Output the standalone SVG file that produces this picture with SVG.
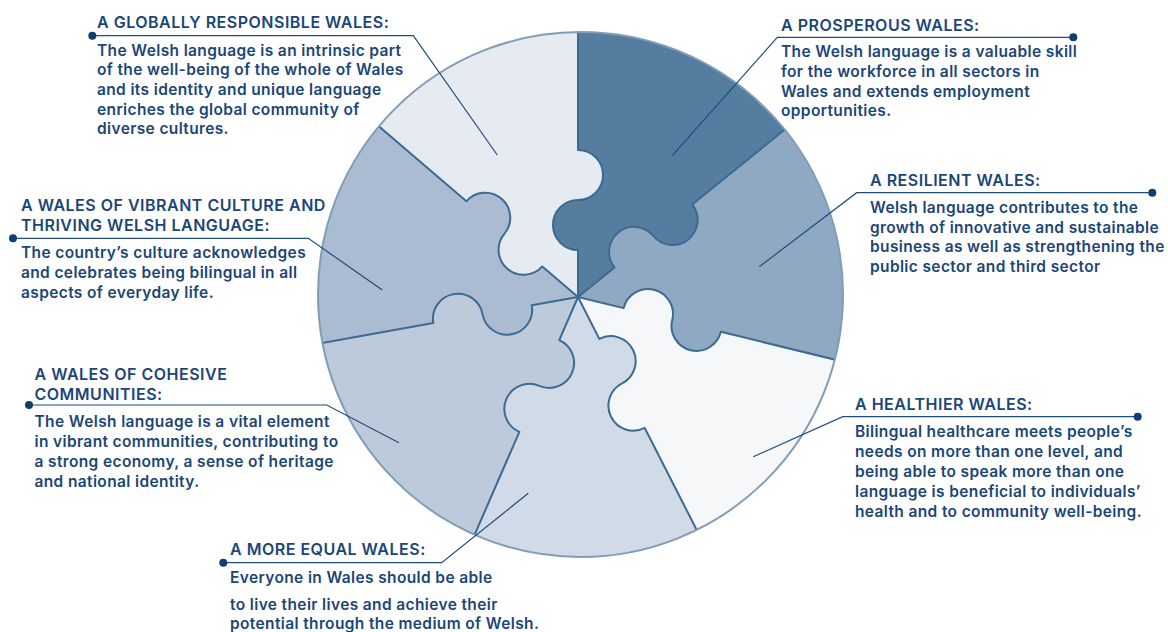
<svg xmlns="http://www.w3.org/2000/svg" width="1168" height="632" viewBox="0 0 1168 632">
<style>
  .t{font-family:Inter,"Liberation Sans",Arial,sans-serif;font-size:15.5px;font-weight:600;fill:#1b4677;letter-spacing:0.37px;}
  .h{font-size:16px;letter-spacing:0.5px;}
  .seam{fill:none;stroke:#3c6a93;stroke-width:2;stroke-linejoin:round;}
  .lead{fill:none;stroke:#1f4d7c;stroke-width:1.2;}
  .dot{fill:#0f3f70;}
</style>
<defs>
  <clipPath id="disc"><circle cx="580.5" cy="294.5" r="262.5"/></clipPath>
</defs>
<rect width="1168" height="632" fill="#ffffff"/>
<g id="wheel" clip-path="url(#disc)">
  <g id="piece-prosperous"><path fill="#557da0" d="M578 297 L578 250 A25 25 0 0 1 578 200 A25 25 0 0 0 578 150 L578 -123 L904.4 32.7 L692.23 204.49 A25 25 0 0 1 653.38 235.96 A25 25 0 0 0 614.52 267.42 Z"/></g>
  <g id="piece-resilient"><path fill="#8fa9c2" d="M578 297 L614.52 267.42 A25 25 0 0 1 653.38 235.96 A25 25 0 0 0 692.23 204.49 L904.4 32.7 L986.05 396.47 L720.82 331.82 A25 25 0 0 1 672.24 319.97 A25 25 0 0 0 623.66 308.13 Z"/></g>
  <g id="piece-healthier"><path fill="#f5f7f9" d="M578 297 L623.66 308.13 A25 25 0 0 1 672.24 319.97 A25 25 0 0 0 720.82 331.82 L986.05 396.47 L768.68 671.22 L644.74 427.98 A25 25 0 0 1 622.04 383.43 A25 25 0 0 0 599.34 338.88 Z"/></g>
  <g id="piece-equal"><path fill="#d0dbe7" d="M578 297 L599.34 338.88 A25 25 0 0 1 622.04 383.43 A25 25 0 0 0 644.74 427.98 L768.68 671.22 L410.52 682.17 L519.38 431.81 A25 25 0 0 1 539.32 385.95 A25 25 0 0 0 559.26 340.10 Z"/></g>
  <g id="piece-cohesive"><path fill="#bccadb" d="M578 297 L559.26 340.10 A25 25 0 0 1 539.32 385.95 A25 25 0 0 0 519.38 431.81 L410.52 682.17 L164.64 371.37 L433.32 323.03 A25 25 0 0 1 482.53 314.18 A25 25 0 0 0 531.74 305.32 Z"/></g>
  <g id="piece-vibrant"><path fill="#abbcd2" d="M578 297 L531.74 305.32 A25 25 0 0 1 482.53 314.18 A25 25 0 0 0 433.32 323.03 L164.64 371.37 L259.11 23.68 L466.39 201.34 A25 25 0 0 1 504.35 233.88 A25 25 0 0 0 542.31 266.41 Z"/></g>
  <g id="piece-global"><path fill="#e6ebf2" d="M578 297 L542.31 266.41 A25 25 0 0 1 504.35 233.88 A25 25 0 0 0 466.39 201.34 L259.11 23.68 L578 -123 L578 150 A25 25 0 0 1 578 200 A25 25 0 0 0 578 250 Z"/></g>
  <g id="seams">
    <path class="seam" d="M578 297 L578 250 A25 25 0 0 1 578 200 A25 25 0 0 0 578 150 L578 -123"/>
    <path class="seam" d="M578 297 L614.52 267.42 A25 25 0 0 1 653.38 235.96 A25 25 0 0 0 692.23 204.49 L904.4 32.7"/>
    <path class="seam" d="M578 297 L623.66 308.13 A25 25 0 0 1 672.24 319.97 A25 25 0 0 0 720.82 331.82 L986.05 396.47"/>
    <path class="seam" d="M578 297 L599.34 338.88 A25 25 0 0 1 622.04 383.43 A25 25 0 0 0 644.74 427.98 L768.68 671.22"/>
    <path class="seam" d="M578 297 L559.26 340.10 A25 25 0 0 1 539.32 385.95 A25 25 0 0 0 519.38 431.81 L410.52 682.17"/>
    <path class="seam" d="M578 297 L531.74 305.32 A25 25 0 0 1 482.53 314.18 A25 25 0 0 0 433.32 323.03 L164.64 371.37"/>
    <path class="seam" d="M578 297 L542.31 266.41 A25 25 0 0 1 504.35 233.88 A25 25 0 0 0 466.39 201.34 L259.11 23.68"/>
  </g>
</g>
<circle cx="580.5" cy="294.5" r="262.5" fill="none" stroke="#819db6" stroke-width="2"/>

<g id="connectors">
  <path class="lead" d="M92.3 35.7 H413.3 L497.3 155"/>
  <path class="lead" d="M1073.3 37.3 H777.3 L672.3 155.7"/>
  <path class="lead" d="M1152.3 192.7 H856.7 L759.3 266.7"/>
  <path class="lead" d="M1137.7 416.7 H842.7 L753.3 456.7"/>
  <path class="lead" d="M13 238.3 H308.3 L382.3 290"/>
  <path class="lead" d="M29 405 H326.7 L399 442.7"/>
  <path class="lead" d="M223.3 562.7 H441.7 L528.3 493.3"/>
  <circle class="dot" cx="92.3" cy="35.7" r="4"/>
  <circle class="dot" cx="1073.3" cy="37.3" r="4"/>
  <circle class="dot" cx="1152.3" cy="192.7" r="4"/>
  <circle class="dot" cx="1137.7" cy="416.7" r="4"/>
  <circle class="dot" cx="13" cy="238.3" r="4"/>
  <circle class="dot" cx="29" cy="405" r="4"/>
  <circle class="dot" cx="223.3" cy="562.7" r="4"/>
</g>

<g id="label-global" class="t">
  <text class="h" x="97" y="28">A GLOBALLY RESPONSIBLE WALES:</text>
  <text x="97" y="55.7">The Welsh language is an intrinsic part</text>
  <text x="97" y="75.3">of the well-being of the whole of Wales</text>
  <text x="97" y="95">and its identity and unique language</text>
  <text x="97" y="114.7">enriches the global community of</text>
  <text x="97" y="134.3">diverse cultures.</text>
</g>
<g id="label-prosperous" class="t">
  <text class="h" x="781" y="31">A PROSPEROUS WALES:</text>
  <text x="781" y="57.3">The Welsh language is a valuable skill</text>
  <text x="781" y="76.9">for the workforce in all sectors in</text>
  <text x="781" y="96.5">Wales and extends employment</text>
  <text x="781" y="116.1">opportunities.</text>
</g>
<g id="label-resilient" class="t">
  <text class="h" x="870" y="186">A RESILIENT WALES:</text>
  <text x="870" y="213.3">Welsh language contributes to the</text>
  <text x="870" y="232.8">growth of innovative and sustainable</text>
  <text x="870" y="252.3">business as well as strengthening the</text>
  <text x="870" y="271.8">public sector and third sector</text>
</g>
<g id="label-healthier" class="t">
  <text class="h" x="855" y="410">A HEALTHIER WALES:</text>
  <text x="855" y="436.7">Bilingual healthcare meets people’s</text>
  <text x="855" y="456.7">needs on more than one level, and</text>
  <text x="855" y="476.7">being able to speak more than one</text>
  <text x="855" y="496.7">language is beneficial to individuals’</text>
  <text x="855" y="516.7">health and to community well-being.</text>
</g>
<g id="label-vibrant" class="t">
  <text class="h" x="21" y="211">A WALES OF VIBRANT CULTURE AND</text>
  <text class="h" x="21" y="231">THRIVING WELSH LANGUAGE:</text>
  <text x="21" y="257.7">The country’s culture acknowledges</text>
  <text x="21" y="277.7">and celebrates being bilingual in all</text>
  <text x="21" y="297.7">aspects of everyday life.</text>
</g>
<g id="label-cohesive" class="t">
  <text class="h" x="34.5" y="380">A WALES OF COHESIVE</text>
  <text class="h" x="34.5" y="400">COMMUNITIES:</text>
  <text x="34.5" y="426.7">The Welsh language is a vital element</text>
  <text x="34.5" y="446.7">in vibrant communities, contributing to</text>
  <text x="34.5" y="466.7">a strong economy, a sense of heritage</text>
  <text x="34.5" y="486.7">and national identity.</text>
</g>
<g id="label-equal" class="t">
  <text class="h" x="230" y="555">A MORE EQUAL WALES:</text>
  <text x="230" y="583.3">Everyone in Wales should be able</text>
  <text x="230" y="610">to live their lives and achieve their</text>
  <text x="230" y="629.3">potential through the medium of Welsh.</text>
</g>
</svg>
